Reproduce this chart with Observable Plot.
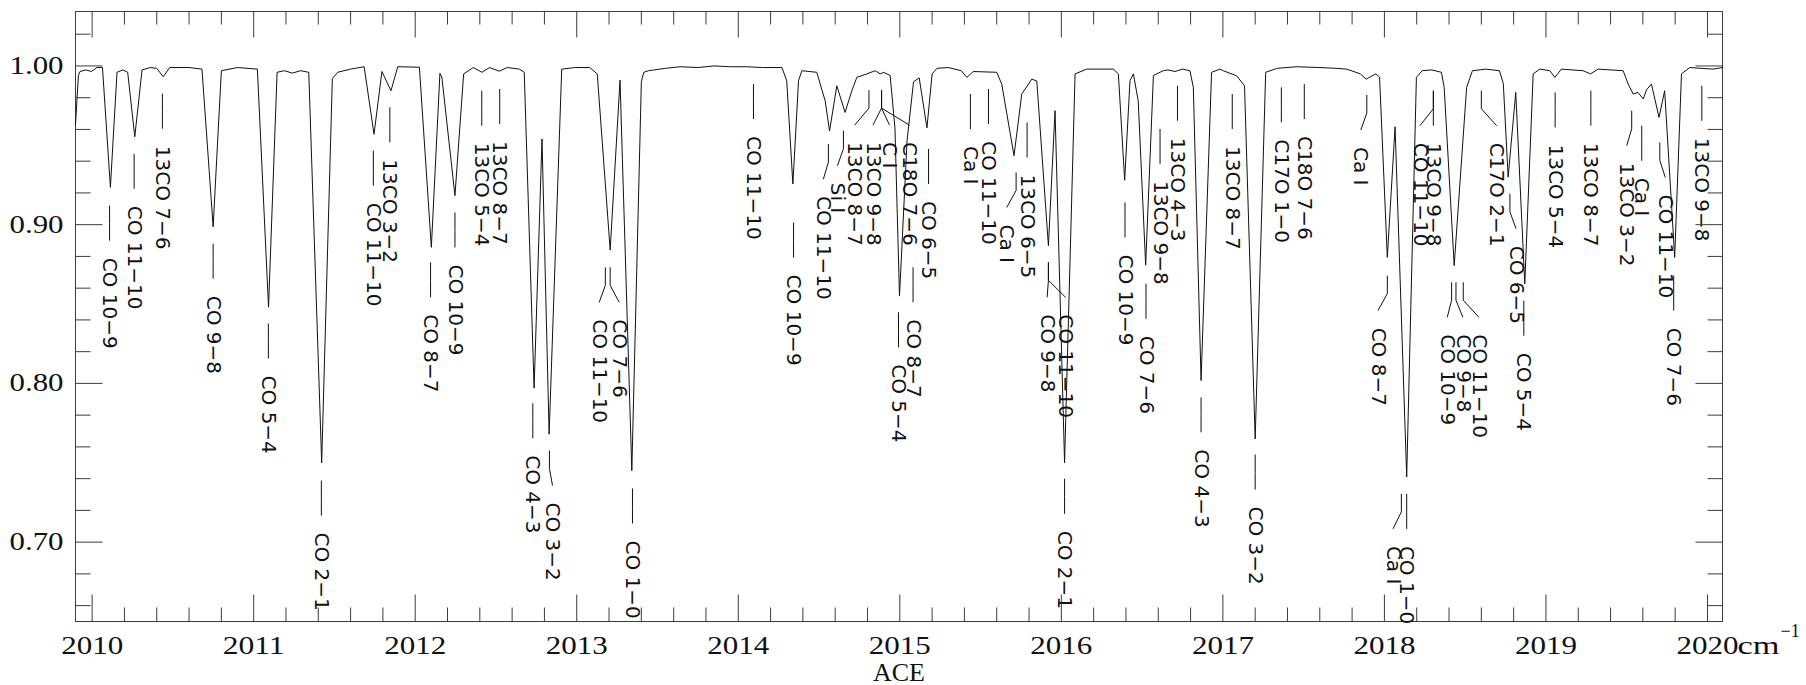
<!DOCTYPE html>
<html>
<head>
<meta charset="utf-8">
<script src="https://cdn.jsdelivr.net/npm/d3@7"></script>
<script src="https://cdn.jsdelivr.net/npm/@observablehq/plot@0.6"></script>
<style>
  html, body { margin: 0; padding: 0; background: #fff; }
  #chart svg { display: block; background: #fff; overflow: visible; }
</style>
</head>
<body>
<div id="chart"></div>
<script>
// ---------------- spectrum (wavenumber in cm^-1, relative flux) ----------------
const wavenumber = [
  2009.897, 2009.915, 2009.925, 2009.96, 2009.996, 2010.03, 2010.064, 2010.113, 2010.154, 2010.19,
  2010.22, 2010.264, 2010.309, 2010.36, 2010.40, 2010.44, 2010.48, 2010.60, 2010.68, 2010.749,
  2010.80, 2010.90, 2011.023, 2011.092, 2011.145, 2011.19, 2011.24, 2011.29, 2011.341, 2011.421,
  2011.487, 2011.52, 2011.60, 2011.684, 2011.745, 2011.794, 2011.85, 2011.892, 2012.026, 2012.10,
  2012.153, 2012.165, 2012.246, 2012.30, 2012.36, 2012.413, 2012.46, 2012.52, 2012.57, 2012.645,
  2012.675, 2012.736, 2012.785, 2012.829, 2012.907, 2012.99, 2013.08, 2013.127, 2013.207, 2013.268,
  2013.341, 2013.40, 2013.415, 2013.444, 2013.55, 2013.64, 2013.75, 2013.85, 2013.95, 2014.05,
  2014.15, 2014.27, 2014.30, 2014.338, 2014.373, 2014.394, 2014.486, 2014.538, 2014.565, 2014.61,
  2014.661, 2014.703, 2014.734, 2014.796, 2014.847, 2014.878, 2014.90, 2014.94, 2014.97, 2014.998,
  2015.045, 2015.085, 2015.12, 2015.168, 2015.20, 2015.23, 2015.30, 2015.38, 2015.415, 2015.455,
  2015.60, 2015.631, 2015.707, 2015.755, 2015.817, 2015.848, 2015.92, 2015.961, 2016.02, 2016.085,
  2016.157, 2016.322, 2016.353, 2016.392, 2016.425, 2016.446, 2016.476, 2016.522, 2016.57, 2016.631,
  2016.66, 2016.704, 2016.75, 2016.796, 2016.817, 2016.865, 2016.93, 2016.982, 2017.002, 2017.085,
  2017.134, 2017.20, 2017.265, 2017.337, 2017.456, 2017.60, 2017.70, 2017.767, 2017.851, 2017.887,
  2017.947, 2017.97, 2018.018, 2018.066, 2018.138, 2018.198, 2018.234, 2018.293, 2018.353, 2018.37,
  2018.432, 2018.509, 2018.545, 2018.628, 2018.712, 2018.736, 2018.766, 2018.813, 2018.869, 2018.921,
  2018.962, 2019.024, 2019.055, 2019.096, 2019.23, 2019.276, 2019.323, 2019.478, 2019.509, 2019.54,
  2019.57, 2019.602, 2019.623, 2019.653, 2019.70, 2019.735, 2019.797, 2019.839, 2019.89, 2019.96,
  2020.035, 2020.093
];
const flux = [
  0.963, 0.994, 0.9965, 0.9975, 0.9965, 0.999, 0.999, 0.9235, 0.996, 0.9975,
  0.996, 0.9554, 0.9975, 0.999, 0.9985, 0.9932, 0.999, 0.999, 0.998, 0.8987,
  0.997, 0.999, 0.998, 0.848, 0.996, 0.997, 0.9955, 0.997, 0.996, 0.750,
  0.992, 0.996, 0.998, 0.9995, 0.957, 0.9965, 0.9844, 0.9995, 0.9992, 0.8857,
  0.9953, 0.993, 0.9183, 0.995, 0.999, 0.996, 0.999, 0.9967, 0.999, 0.998,
  0.996, 0.797, 0.954, 0.768, 0.998, 0.999, 0.999, 0.995, 0.884, 0.991,
  0.745, 0.990, 0.996, 0.997, 0.9985, 0.9995, 0.999, 1.000, 0.9995, 0.9995,
  0.999, 0.999, 0.9907, 0.9256, 0.9907, 0.997, 0.996, 0.978, 0.959, 0.9875,
  0.9707, 0.9844, 0.9928, 0.995, 0.997, 0.995, 0.996, 0.994, 0.961, 0.855,
  0.953, 0.990, 0.9925, 0.961, 0.995, 0.9985, 0.999, 0.997, 0.9928, 0.9965,
  0.996, 0.9886, 0.9435, 0.9823, 0.9917, 0.9905, 0.8868, 0.9718, 0.750, 0.995,
  0.998, 0.998, 0.995, 0.928, 0.9907, 0.995, 0.978, 0.8745, 0.994, 0.997,
  0.9975, 0.9965, 0.998, 0.997, 0.9865, 0.8018, 0.996, 0.998, 0.997, 0.9938,
  0.9875, 0.765, 0.996, 0.9985, 0.9995, 0.999, 0.9985, 0.998, 0.995, 0.9917,
  0.995, 0.993, 0.8794, 0.9617, 0.741, 0.9928, 0.997, 0.9975, 0.996, 0.9865,
  0.8742, 0.9865, 0.997, 0.998, 0.997, 0.989, 0.930, 0.9833, 0.8627, 0.995,
  0.998, 0.997, 0.9928, 0.998, 0.997, 0.995, 0.998, 0.997, 0.9886, 0.9823,
  0.9833, 0.9792, 0.985, 0.9886, 0.9676, 0.9844, 0.8794, 0.995, 0.999, 0.9985,
  0.998, 0.999
];

// ---------------- line identifications ----------------
const labelText = [
  "CO 10\u22129", "CO 11\u221210", "13CO 7\u22126", "CO 9\u22128", "CO 5\u22124", "CO 2\u22121",
  "CO 11\u221210", "13CO 3\u22122", "CO 8\u22127", "CO 10\u22129", "13CO 5\u22124", "13CO 8\u22127",
  "CO 4\u22123", "CO 3\u22122", "CO 11\u221210", "CO 7\u22126", "CO 1\u22120",
  "CO 11\u221210", "CO 10\u22129", "CO 11\u221210", "Si I", "13CO 8\u22127", "13CO 9\u22128", "C I",
  "C18O 7\u22126", "CO 5\u22124", "CO 8\u22127", "CO 6\u22125", "Ca I", "CO 11\u221210", "Ca I",
  "13CO 6\u22125", "CO 9\u22128", "CO 11\u221210", "CO 2\u22121", "CO 10\u22129", "CO 7\u22126",
  "13CO 9\u22128", "13CO 4\u22123", "CO 4\u22123", "13CO 8\u22127", "CO 3\u22122", "C17O 1\u22120",
  "C18O 7\u22126", "Ca I", "CO 8\u22127", "Ca I", "CO 1\u22120", "13CO 9\u22128", "CO 11\u221210",
  "CO 10\u22129", "CO 9\u22128", "CO 11\u221210", "C17O 2\u22121", "CO 6\u22125", "CO 5\u22124",
  "13CO 5\u22124", "13CO 8\u22127", "13CO 3\u22122", "Ca I", "CO 11\u221210", "CO 7\u22126", "13CO 9\u22128"
];
// wavenumber of the identified line (where the marker starts)
const lineWavenumber = [
  2010.108, 2010.26, 2010.435, 2010.749, 2011.091, 2011.419,
  2011.741, 2011.843, 2012.095, 2012.246, 2012.412, 2012.523,
  2012.728, 2012.831, 2013.177, 2013.207, 2013.345,
  2014.094, 2014.342, 2014.558, 2014.651, 2014.809, 2014.887, 2014.887,
  2014.887, 2014.992, 2015.082, 2015.178, 2015.437, 2015.549, 2015.72,
  2015.788, 2015.92, 2015.92, 2016.02, 2016.394, 2016.524,
  2016.611, 2016.719, 2016.865, 2017.058, 2017.20, 2017.362,
  2017.504, 2017.891, 2018.018, 2018.105, 2018.138, 2018.303, 2018.303,
  2018.416, 2018.443, 2018.488, 2018.60, 2018.777, 2018.863,
  2019.057, 2019.278, 2019.531, 2019.593, 2019.705, 2019.791, 2019.965
];
// wavenumber at which the label text is written
const textWavenumber = [
  2010.108, 2010.26, 2010.435, 2010.749, 2011.091, 2011.419,
  2011.741, 2011.843, 2012.095, 2012.246, 2012.412, 2012.523,
  2012.728, 2012.85, 2013.139, 2013.263, 2013.345,
  2014.094, 2014.342, 2014.527, 2014.614, 2014.721, 2014.834, 2014.936,
  2015.059, 2014.992, 2015.082, 2015.178, 2015.437, 2015.549, 2015.662,
  2015.788, 2015.912, 2016.026, 2016.02, 2016.394, 2016.524,
  2016.611, 2016.719, 2016.865, 2017.058, 2017.20, 2017.362,
  2017.504, 2017.854, 2017.96, 2018.053, 2018.138, 2018.303, 2018.22,
  2018.389, 2018.486, 2018.585, 2018.695, 2018.815, 2018.863,
  2019.057, 2019.278, 2019.50, 2019.593, 2019.739, 2019.791, 2019.965
];
// flux level at which each marker begins
const markerTop = [
  0.912, 0.9447, 0.9825, 0.888, 0.8377, 0.7388,
  0.9466, 0.9739, 0.8763, 0.9077, 0.9844, 0.9855,
  0.7875, 0.7577, 0.8731, 0.8731, 0.7338,
  0.9886, 0.9013, 0.9508, 0.9592, 0.9848, 0.9848, 0.9848,
  0.9848, 0.8448, 0.8731, 0.9477, 0.9823, 0.9855, 0.9329,
  0.9644, 0.8763, 0.8763, 0.7399, 0.914, 0.8628,
  0.9603, 0.9875, 0.7912, 0.9823, 0.7552, 0.9865,
  0.9886, 0.9817, 0.8679, 0.7304, 0.7304, 0.9844, 0.9844,
  0.8637, 0.8637, 0.8637, 0.9844, 0.9195, 0.8521,
  0.9833, 0.9844, 0.9718, 0.9623, 0.9518, 0.8679, 0.9875
];

// ---------------- axes ----------------
const xMajorTicks = [2010, 2011, 2012, 2013, 2014, 2015, 2016, 2017, 2018, 2019, 2020];
const xTickLabels = ["2010", "2011", "2012", "2013", "2014", "2015", "2016", "2017", "2018", "2019", "2020"];
const yMajorTicks = [0.70, 0.80, 0.90, 1.00];
const yTickLabels = ["0.70", "0.80", "0.90", "1.00"];
const xUnit = "cm";
const xUnitExp = "\u22121";
const xTitle = "ACE";

// ---------------- layout ----------------
const W = 1806, H = 685;
const mL = 75, mR = 84, mT = 11, mB = 64;
const innerW = W - mL - mR, innerH = H - mT - mB;
const xDomain = [2009.897, 2020.093];
const yDomain = [0.65, 1.0343];
const pxX = (xDomain[1] - xDomain[0]) / innerW; // wavenumber per pixel
const pxY = (yDomain[1] - yDomain[0]) / innerH; // flux per pixel
const [xa, xb] = xDomain;
const [ya, yb] = yDomain;

const xMinorTicks = d3.range(0, 51).map(i => 2010 + i * 0.2).filter((v, i) => i % 5 !== 0);
const yMinorTicks = d3.range(0, 19).map(i => 0.66 + i * 0.02)
  .filter(v => v < yb && Math.abs(v * 10 - Math.round(v * 10)) > 1e-6);

// tick segments (inside the frame, on all four sides), built from the tick arrays
const tickSegs = [
  ...xMajorTicks.flatMap(v => [
    {x1: v, y1: ya, x2: v, y2: ya + 27 * pxY},
    {x1: v, y1: yb, x2: v, y2: yb - 26 * pxY}]),
  ...xMinorTicks.flatMap(v => [
    {x1: v, y1: ya, x2: v, y2: ya + 14 * pxY},
    {x1: v, y1: yb, x2: v, y2: yb - 13 * pxY}]),
  ...yMajorTicks.flatMap(v => [
    {x1: xa, y1: v, x2: xa + 27 * pxX, y2: v},
    {x1: xb, y1: v, x2: xb - 27 * pxX, y2: v}]),
  ...yMinorTicks.flatMap(v => [
    {x1: xa, y1: v, x2: xa + 15 * pxX, y2: v},
    {x1: xb, y1: v, x2: xb - 15 * pxX, y2: v}])
];

const spectrum = wavenumber.map((w, i) => ({w, f: flux[i]}));
const labels = labelText.map((t, i) => ({t, xl: lineWavenumber[i], xt: textWavenumber[i], y0: markerTop[i]}));
const seg1 = 18, seg2 = 17, textGap = 52;
const segs = labels.flatMap(d => [
  {x1: d.xl, y1: d.y0, x2: d.xl, y2: d.y0 - seg1 * pxY},
  {x1: d.xl, y1: d.y0 - seg1 * pxY, x2: d.xt, y2: d.y0 - (seg1 + seg2) * pxY}
]);

const axisColor = "#3c3c3c";
const ink = "#111";
const serif = "Liberation Serif";

const chart = Plot.plot({
  width: W, height: H,
  marginLeft: mL, marginRight: mR, marginTop: mT, marginBottom: mB,
  x: {domain: xDomain, axis: null},
  y: {domain: yDomain, axis: null},
  marks: [
    Plot.frame({stroke: axisColor, fill: "none"}),
    // spectrum
    Plot.line(spectrum, {x: "w", y: "f", stroke: ink, strokeWidth: 1, curve: "linear"}),
    // line identification markers
    Plot.link(segs, {x1: "x1", y1: "y1", x2: "x2", y2: "y2", stroke: ink, strokeWidth: 1}),
    // text marks (order matters for the stretching step below)
    Plot.text(labels, {
      x: "xt", y: d => d.y0 - textGap * pxY, text: "t", rotate: 90,
      textAnchor: "start", lineAnchor: "middle",
      fontSize: 20, fontFamily: "DejaVu Sans", fill: ink
    }),
    Plot.text(xMajorTicks, {
      x: d => d, text: xTickLabels, frameAnchor: "bottom", dy: 24, lineAnchor: "middle",
      fontSize: 26, fontFamily: serif, fill: ink
    }),
    Plot.text([xUnit], {
      x: () => xMajorTicks[xMajorTicks.length - 1], text: d => d, frameAnchor: "bottom",
      dx: 30, dy: 24, textAnchor: "start", lineAnchor: "middle",
      fontSize: 26, fontFamily: serif, fill: ink
    }),
    Plot.text([xUnitExp], {
      x: () => xMajorTicks[xMajorTicks.length - 1], text: d => d, frameAnchor: "bottom",
      dx: 73, dy: 10, textAnchor: "start", lineAnchor: "middle",
      fontSize: 18, fontFamily: serif, fill: ink
    }),
    Plot.text(yMajorTicks, {
      y: d => d, text: yTickLabels, frameAnchor: "left", dx: -12, textAnchor: "end", lineAnchor: "middle",
      fontSize: 25, fontFamily: serif, fill: ink
    }),
    Plot.text([xTitle], {
      text: d => d, frameAnchor: "bottom", dy: 51, lineAnchor: "middle",
      fontSize: 26, fontFamily: serif, fill: ink
    })
  ]
});

const root = d3.select(chart);
// stretch the serif labels to the wide proportions of the original plotting font
const textGroups = root.selectAll('g[aria-label="text"]').nodes();
const stretch = (g, len) => { if (g) d3.select(g).selectAll("text").attr("textLength", len).attr("lengthAdjust", "spacingAndGlyphs"); };
stretch(textGroups[1], 62);  // x tick labels
stretch(textGroups[2], 42);  // "cm"
stretch(textGroups[4], 54);  // y tick labels

// inward frame ticks, positioned through the plot's own x and y scales
try {
  const sx = chart.scale ? chart.scale("x") : null;
  const sy = chart.scale ? chart.scale("y") : null;
  const fx = sx && sx.apply ? v => sx.apply(v) : d3.scaleLinear(xDomain, [mL, W - mR]);
  const fy = sy && sy.apply ? v => sy.apply(v) : d3.scaleLinear(yDomain, [H - mB, mT]);
  const tg = root.append("g").attr("aria-label", "frame ticks")
    .attr("stroke", axisColor).attr("stroke-width", 1).attr("fill", "none")
    .attr("transform", "translate(0.5,0.5)");
  tg.selectAll("line").data(tickSegs).join("line")
    .attr("x1", d => fx(d.x1)).attr("y1", d => fy(d.y1))
    .attr("x2", d => fx(d.x2)).attr("y2", d => fy(d.y2));
} catch (e) { /* keep the chart even if ticks fail */ }

document.getElementById("chart").appendChild(chart);
</script>
</body>
</html>
